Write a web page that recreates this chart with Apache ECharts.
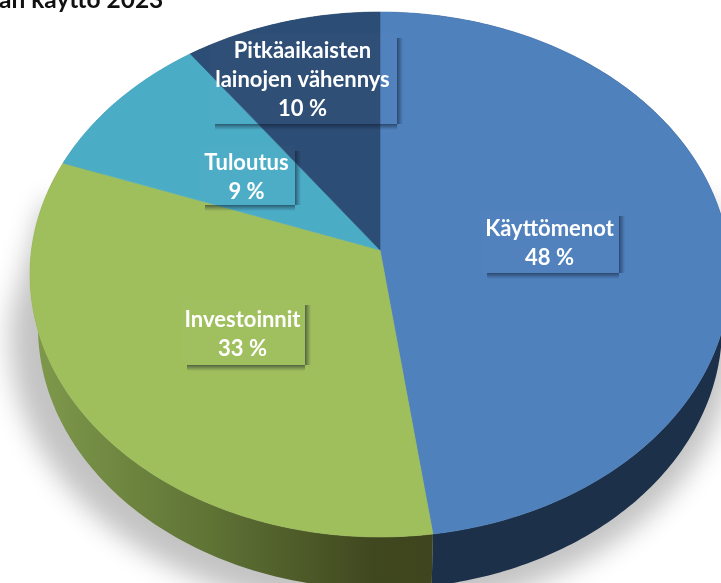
<!DOCTYPE html>
<html>
<head>
<meta charset="utf-8">
<style>
  html, body { margin: 0; padding: 0; background: #fff; }
  #chart { width: 721px; height: 583px; overflow: hidden; }
</style>
</head>
<body>
<div id="chart"></div>
<script src="https://cdn.jsdelivr.net/npm/echarts@6/dist/echarts.min.js"></script>
<script>
const categories = ['Käyttömenot', 'Investoinnit', 'Tuloutus', 'Pitkäaikaisten\nlainojen vähennys']
// read from the slice edges, the labels show them rounded
const shares = [47.8, 32.8, 9.45, 9.95]
const titleText = 'an käyttö 2023'

const TOP_COLORS = ['#4f81bd', '#9fbe5c', '#4bacc6', '#2c4d75']
const WALL_COLORS = [
  '#1c3049',
  { type: 'linear', global: true, x: 30, y: 0, x2: 432, y2: 0,
    colorStops: [{ offset: 0, color: '#7f9a4c' }, { offset: 0.45, color: '#5f7335' }, { offset: 0.85, color: '#40481f' }, { offset: 1, color: '#3f451e' }] },
  '#2a7a8c',
  '#1c3049'
]
// label box: [left, top, right, bottom]
const LABEL_BOXES = [[482, 211, 619, 273], [182, 300, 305, 365], [200, 146, 295, 205], [210, 33, 397, 124]]
// the shadow shape sits off the canvas, only its blur falls back onto the chart
const SHADOW_SHIFT = 1500

const total = shares.reduce((a, b) => a + b, 0)
const sliceStarts = shares.map((_, i) => shares.slice(0, i).reduce((a, b) => a + b, 0))

// tilted disc: rim point for a pie angle, perspective makes the near half bigger
function rimPoint(share) {
  const t = share / total * Math.PI * 2
  const w = 1 + 0.0933 * Math.cos(t)
  return [380 + 348.5 * Math.sin(t) / w, 250 - 260.2 * Math.cos(t) / w]
}

// same rim point on the lower edge of the disc
function lowerPoint(p) {
  return [380 + 342 * (p[0] - 380) / 350, 327 + 262 * (p[1] - 274.5) / 262.5]
}

function rimPath(from, to) {
  const pts = []
  const steps = Math.max(2, Math.ceil((to - from) * 4))
  for (let i = 0; i <= steps; i++) pts.push(rimPoint(from + (to - from) * i / steps))
  return pts
}

function renderTop(params, api) {
  const from = api.value(0)
  const to = from + api.value(1)
  const pts = [[380, 250]].concat(rimPath(from, to)).map(p => api.coord(p))
  const color = TOP_COLORS[params.dataIndex]
  return { type: 'polygon', shape: { points: pts }, style: { fill: color, stroke: color, lineWidth: 0.6 } }
}

function renderWall(params, api) {
  const from = api.value(0)
  const to = from + api.value(1)
  const rim = rimPath(from, to)
  const pts = rim.concat(rim.map(lowerPoint).reverse()).map(p => api.coord(p))
  const color = WALL_COLORS[params.dataIndex]
  return { type: 'polygon', shape: { points: pts }, style: { fill: color } }
}

// soft ground shadow: near half of a wider disc, closed up to the left and right rim
function renderShadow(params, api) {
  const near = rimPath(total * 0.25, total * 0.75).map(p => {
    return [372 + 362 * (p[0] - 380) / 350, 338 + 275 * (p[1] - 274.5) / 262.5]
  })
  const pts = [rimPoint(total * 0.22)].concat(near, [rimPoint(total * 0.78)])
    .map(p => api.coord(p))
    .map(p => [p[0] - SHADOW_SHIFT, p[1]])
  return {
    type: 'polygon',
    shape: { points: pts },
    style: { fill: '#000', shadowBlur: 26, shadowColor: '#c4c4c4', shadowOffsetX: SHADOW_SHIFT }
  }
}

function renderLabel(params, api) {
  const [l, t, r, b] = LABEL_BOXES[params.dataIndex]
  const tl = api.coord([l, t])
  const br = api.coord([r, b])
  const w = br[0] - tl[0]
  const h = br[1] - tl[1]
  const text = categories[params.dataIndex] + '\n' + Math.round(api.value(0)) + ' %'
  const edge = (x2, y2) => ({
    type: 'linear', x: 0, y: 0, x2, y2,
    colorStops: [
      { offset: 0, color: 'rgba(15,25,45,0.55)' },
      { offset: 0.5, color: 'rgba(15,25,45,0.25)' },
      { offset: 1, color: 'rgba(15,25,45,0)' }
    ]
  })
  return {
    type: 'group',
    children: [
      { type: 'rect', shape: { x: tl[0], y: tl[1], width: w, height: h }, style: { fill: 'rgba(255,255,255,0.015)' } },
      { type: 'rect', shape: { x: br[0], y: tl[1] + 5, width: 6, height: h - 5 }, style: { fill: edge(1, 0) } },
      { type: 'rect', shape: { x: tl[0] + 5, y: br[1], width: w - 5, height: 6 }, style: { fill: edge(0, 1) } },
      { type: 'text',
        style: { x: tl[0] + w / 2 - 1, y: tl[1] + h / 2 + 1.5, text, fill: '#fff', align: 'center', verticalAlign: 'middle',
          font: 'bold 22px Lato', lineHeight: 29 } }
    ]
  }
}

const chart = echarts.init(document.getElementById('chart'), null, { renderer: 'canvas' })
const sliceData = shares.map((v, i) => [sliceStarts[i], v])

chart.setOption({
  animation: false,
  title: {
    text: titleText,
    left: -1,
    top: -12,
    padding: 0,
    textStyle: { color: '#111', fontFamily: 'Lato', fontWeight: 'bold', fontSize: 24.5 }
  },
  grid: { left: 0, right: 0, top: 0, bottom: 0 },
  xAxis: { type: 'value', min: 0, max: 721, show: false },
  yAxis: { type: 'value', min: 0, max: 583, inverse: true, show: false },
  series: [
    { type: 'custom', z: 1, silent: true, renderItem: renderShadow, data: [[0, total]] },
    { type: 'custom', z: 2, clip: true, silent: true, renderItem: renderWall, data: sliceData },
    { type: 'custom', z: 3, clip: true, silent: true, renderItem: renderTop, data: sliceData },
    { type: 'custom', z: 4, silent: true, renderItem: renderLabel, data: shares.map(v => [v]) }
  ]
})
</script>
</body>
</html>
